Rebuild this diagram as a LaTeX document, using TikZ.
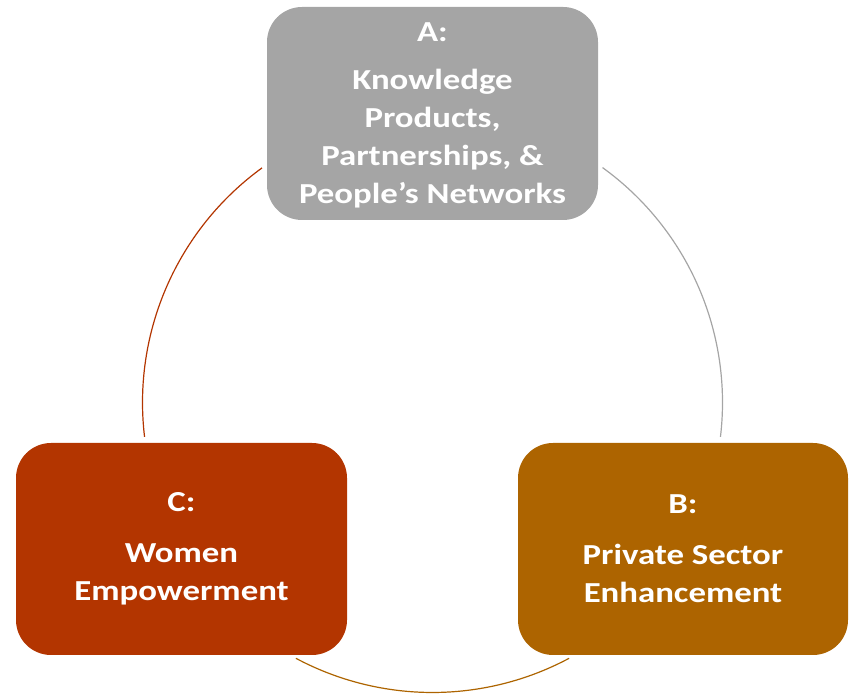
\documentclass[tikz,border=0pt]{standalone}
\usepackage{fontspec}
\newfontfamily\boxfont{Carlito}[FakeStretch=1.2]
\definecolor{agray}{HTML}{A5A5A5}
\definecolor{bor}{HTML}{AD6400}
\definecolor{cred}{HTML}{B33500}
\tikzset{
  box/.style={rounded corners=35pt, minimum width=331pt, minimum height=212pt,
    align=center, text=white, font=\boxfont\bfseries\fontsize{29}{38}\selectfont},
  ring/.style={line width=1.2pt}
}
\begin{document}
\begin{tikzpicture}[x=1pt,y=1pt]
\useasboundingbox (0,0) rectangle (854,695);
\coordinate (O) at (432.5,292.5);
% arcs
\coordinate (a1) at ([shift={(54.1:290)}]O);
\coordinate (c2) at ([shift={(126:290)}]O);
\coordinate (b1) at ([shift={(-6.8:290)}]O);
\coordinate (c1) at ([shift={(186.8:290)}]O);
\coordinate (b2) at ([shift={(298.1:290)}]O);
\coordinate (c3) at ([shift={(241.9:290)}]O);
\draw[ring, agray] (a1) arc[start angle=54.1, end angle=-6.8, radius=290];
\draw[ring, bor] (b2) arc[start angle=298.1, end angle=241.9, radius=290];
\draw[ring, cred] (c1) arc[start angle=186.8, end angle=126, radius=290];
% boxes
\node[box, fill=agray, minimum height=213pt] (A) at (432.5,581.5) {};
\node[text=white, align=center, font=\boxfont\bfseries\fontsize{29}{38}\selectfont]
  (At) at (432.5,579.5)
  {A:\\[10pt] Knowledge\\ Products,\\ Partnerships, \&\\ People’s Networks};
\node[box, fill=bor, minimum width=330pt] (B) at (683,146)
  {B:\\[13pt] Private Sector\\ Enhancement};
\node[box, fill=cred] (C) at (181.5,146)
  {C:\\[13pt] Women\\ Empowerment};
\end{tikzpicture}
\end{document}
